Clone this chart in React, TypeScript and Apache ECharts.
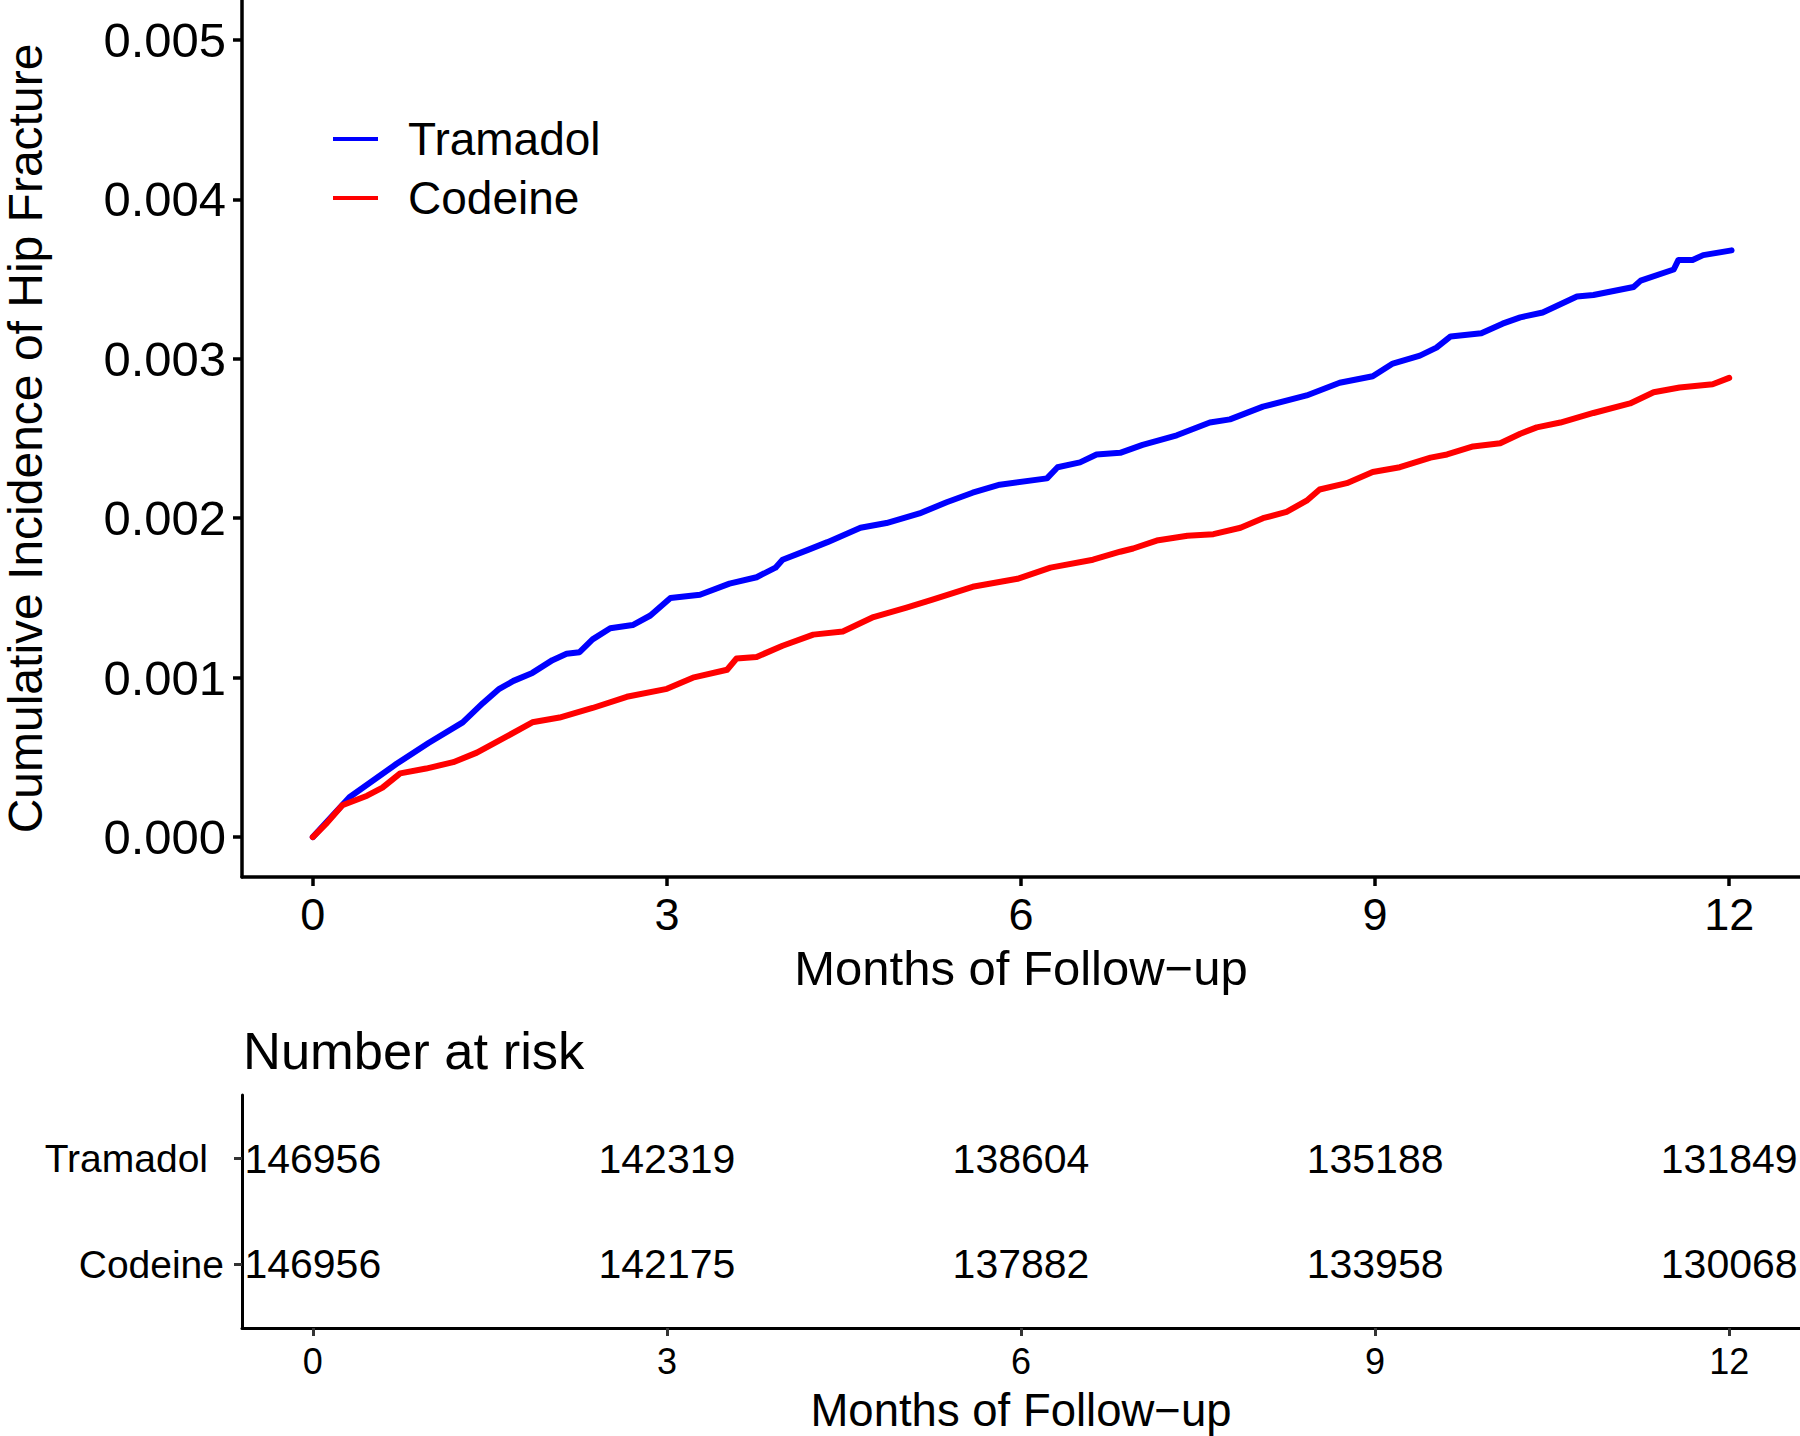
import React, { useEffect, useRef } from "react";
import * as echarts from "echarts";

const FONT = "Liberation Sans, Arial, sans-serif";

// Month tick positions (shared by both panels)
const monthTicks = [0, 3, 6, 9, 12];
const yTicks = [0, 0.001, 0.002, 0.003, 0.004, 0.005];

// Tramadol cumulative incidence curve
const tramadolMonths = [
  0, 0.31, 0.71, 0.98, 1.27, 1.44, 1.58, 1.7, 1.86, 2.03,
  2.15, 2.26, 2.37, 2.52, 2.71, 2.86, 3.03, 3.28, 3.53, 3.76,
  3.92, 3.98, 4.19, 4.36, 4.64, 4.86, 5.14, 5.37, 5.59, 5.82,
  6.22, 6.31, 6.5, 6.64, 6.84, 7.03, 7.32, 7.6, 7.77, 8.05,
  8.42, 8.7, 8.98, 9.15, 9.38, 9.52, 9.64, 9.9, 10.08, 10.23,
  10.42, 10.71, 10.85, 11.19, 11.25, 11.53, 11.57, 11.69, 11.78, 12.02,
];
const tramadolCI = [
  0, 0.00025, 0.00046, 0.00059, 0.00072, 0.00084, 0.00093, 0.00098, 0.00103, 0.00111,
  0.00115, 0.00116, 0.00124, 0.00131, 0.00133, 0.00139, 0.0015, 0.00152, 0.00159, 0.00163,
  0.00169, 0.00174, 0.0018, 0.00185, 0.00194, 0.00197, 0.00203, 0.0021, 0.00216, 0.00221,
  0.00225, 0.00232, 0.00235, 0.0024, 0.00241, 0.00246, 0.00252, 0.0026, 0.00262, 0.0027,
  0.00277, 0.00285, 0.00289, 0.00297, 0.00302, 0.00307, 0.00314, 0.00316, 0.00322, 0.00326,
  0.00329, 0.00339, 0.0034, 0.00345, 0.00349, 0.00356, 0.00362, 0.00362, 0.00365, 0.00368,
];

// Codeine cumulative incidence curve
const codeineMonths = [
  0, 0.12, 0.25, 0.46, 0.59, 0.74, 0.96, 1.19, 1.39, 1.64,
  1.86, 2.09, 2.37, 2.66, 3.0, 3.22, 3.51, 3.59, 3.76, 3.98,
  4.24, 4.49, 4.75, 5.03, 5.25, 5.59, 5.97, 6.25, 6.61, 6.84,
  6.95, 7.15, 7.41, 7.63, 7.86, 8.05, 8.25, 8.42, 8.53, 8.76,
  8.98, 9.21, 9.47, 9.61, 9.83, 10.06, 10.23, 10.37, 10.57, 10.85,
  11.16, 11.36, 11.58, 11.86, 12.0,
];
const codeineCI = [
  0, 0.00009, 0.0002, 0.00026, 0.00031, 0.0004, 0.00043, 0.00047, 0.00053, 0.00063,
  0.00072, 0.00075, 0.00081, 0.00088, 0.00093, 0.001, 0.00105, 0.00112, 0.00113, 0.0012,
  0.00127, 0.00129, 0.00138, 0.00144, 0.00149, 0.00157, 0.00162, 0.00169, 0.00174, 0.00179,
  0.00181, 0.00186, 0.00189, 0.0019, 0.00194, 0.002, 0.00204, 0.00211, 0.00218, 0.00222,
  0.00229, 0.00232, 0.00238, 0.0024, 0.00245, 0.00247, 0.00253, 0.00257, 0.0026, 0.00266,
  0.00272, 0.00279, 0.00282, 0.00284, 0.00288,
];

// Number at risk table
const riskGroups = ["Codeine", "Tramadol"]; // row 1 = Codeine, row 2 = Tramadol
const tramadolRisk = [146956, 142319, 138604, 135188, 131849];
const codeineRisk = [146956, 142175, 137882, 133958, 130068];

export default function App() {
  const ref = useRef<HTMLDivElement>(null);

  useEffect(() => {
    if (!ref.current) return;
    const chart = echarts.init(ref.current, null, { renderer: "svg" });

    const axisBase = {
      type: "value" as const,
      splitLine: { show: false },
    };

    const riskLabel = {
      show: true,
      position: "inside",
      fontSize: 41,
      color: "#000000",
      opacity: 1,
      fontFamily: FONT,
      formatter: (p: any) => String(p.value[2]),
    };

    const option: any = {
      animation: false,
      backgroundColor: "#ffffff",
      textStyle: { fontFamily: FONT },
      title: {
        text: "Number at risk",
        left: 243,
        top: 1024,
        padding: 0,
        textStyle: { fontSize: 52.5, fontWeight: "normal", color: "#000", fontFamily: FONT },
      },
      legend: {
        orient: "vertical",
        left: 333,
        top: 116,
        padding: 0,
        itemWidth: 45,
        itemHeight: 4,
        itemGap: 13,
        icon: "rect",
        data: ["Tramadol", "Codeine"],
        formatter: "{n|{name}}",
        textStyle: {
          rich: {
            n: { fontSize: 46, lineHeight: 52, padding: [0, 0, 0, 25], color: "#000", fontFamily: FONT },
          },
        },
      },
      grid: [
        { left: 242, top: 0, width: 1558, height: 877, outerBoundsMode: "none", containLabel: false },
        { left: 242, top: 1095, width: 1558, height: 233, outerBoundsMode: "none", containLabel: false },
      ],
      xAxis: [
        {
          ...axisBase,
          gridIndex: 0,
          min: -0.6,
          max: 12.6,
          axisLine: { show: true, onZero: false, lineStyle: { color: "#000", width: 3.5 } },
          axisTick: { show: true, customValues: monthTicks, length: 9, lineStyle: { color: "#000", width: 3.5 } },
          axisLabel: { customValues: monthTicks, fontSize: 45, color: "#000", margin: 15, fontFamily: FONT },
          name: "Months of Follow\u2212up",
          nameLocation: "middle",
          nameGap: 66,
          nameTextStyle: { fontSize: 49, color: "#000", fontFamily: FONT },
        },
        {
          ...axisBase,
          gridIndex: 1,
          min: -0.6,
          max: 12.6,
          axisLine: { show: true, onZero: false, lineStyle: { color: "#000", width: 3 } },
          axisTick: { show: true, customValues: monthTicks, length: 8, lineStyle: { color: "#333", width: 3 } },
          axisLabel: { customValues: monthTicks, fontSize: 36, color: "#000", margin: 15, fontFamily: FONT },
          name: "Months of Follow\u2212up",
          nameLocation: "middle",
          nameGap: 59,
          nameTextStyle: { fontSize: 45.5, color: "#000", fontFamily: FONT },
        },
      ],
      yAxis: [
        {
          ...axisBase,
          gridIndex: 0,
          min: -0.00025,
          max: 0.00525,
          axisLine: { show: true, onZero: false, lineStyle: { color: "#000", width: 3.5 } },
          axisTick: { show: true, customValues: yTicks, length: 9, lineStyle: { color: "#000", width: 3.5 } },
          axisLabel: {
            customValues: yTicks,
            fontSize: 49,
            color: "#000",
            margin: 16,
            fontFamily: FONT,
            formatter: (v: number) => v.toFixed(3),
          },
          name: "Cumulative Incidence of Hip Fracture",
          nameLocation: "middle",
          nameRotate: 90,
          nameGap: 193,
          nameTextStyle: { fontSize: 48, lineHeight: 48, color: "#000", fontFamily: FONT },
        },
        {
          ...axisBase,
          gridIndex: 1,
          min: 0.4,
          max: 2.6,
          axisLine: { show: true, onZero: false, lineStyle: { color: "#000", width: 3 } },
          axisTick: { show: true, customValues: [1, 2], length: 8, lineStyle: { color: "#333", width: 3 } },
          axisLabel: {
            customValues: [1, 2],
            color: "#000",
            margin: 18,
            fontFamily: FONT,
            formatter: (v: number) => {
              const name = riskGroups[Math.round(v) - 1] || "";
              return name === "Tramadol" ? "{t|" + name + "}" : "{c|" + name + "}";
            },
            rich: {
              t: { fontSize: 39, color: "#000", fontFamily: FONT, padding: [0, 16, 0, 0] },
              c: { fontSize: 39, color: "#000", fontFamily: FONT },
            },
          },
        },
      ],
      series: [
        {
          name: "Tramadol",
          type: "line",
          xAxisIndex: 0,
          yAxisIndex: 0,
          symbol: "none",
          showSymbol: false,
          data: tramadolMonths.map((m, i) => [m, tramadolCI[i]]),
          lineStyle: { color: "#0000FF", width: 6, cap: "round", join: "round" },
          itemStyle: { color: "#0000FF" },
          silent: true,
        },
        {
          name: "Codeine",
          type: "line",
          xAxisIndex: 0,
          yAxisIndex: 0,
          symbol: "none",
          showSymbol: false,
          data: codeineMonths.map((m, i) => [m, codeineCI[i]]),
          lineStyle: { color: "#FF0000", width: 6, cap: "round", join: "round" },
          itemStyle: { color: "#FF0000" },
          silent: true,
        },
        {
          name: "risk-Tramadol",
          type: "scatter",
          xAxisIndex: 1,
          yAxisIndex: 1,
          symbolSize: 1,
          itemStyle: { color: "rgba(255,255,255,0)" },
          silent: true,
          label: riskLabel,
          data: monthTicks.map((m, i) => [m, 2, tramadolRisk[i]]),
        },
        {
          name: "risk-Codeine",
          type: "scatter",
          xAxisIndex: 1,
          yAxisIndex: 1,
          symbolSize: 1,
          itemStyle: { color: "rgba(255,255,255,0)" },
          silent: true,
          label: riskLabel,
          data: monthTicks.map((m, i) => [m, 1, codeineRisk[i]]),
        },
      ],
    };

    chart.setOption(option);
    return () => chart.dispose();
  }, []);

  return (
    <div
      ref={ref}
      style={{ position: "fixed", left: 0, top: 0, width: 1800, height: 1436, background: "#fff" }}
    />
  );
}
